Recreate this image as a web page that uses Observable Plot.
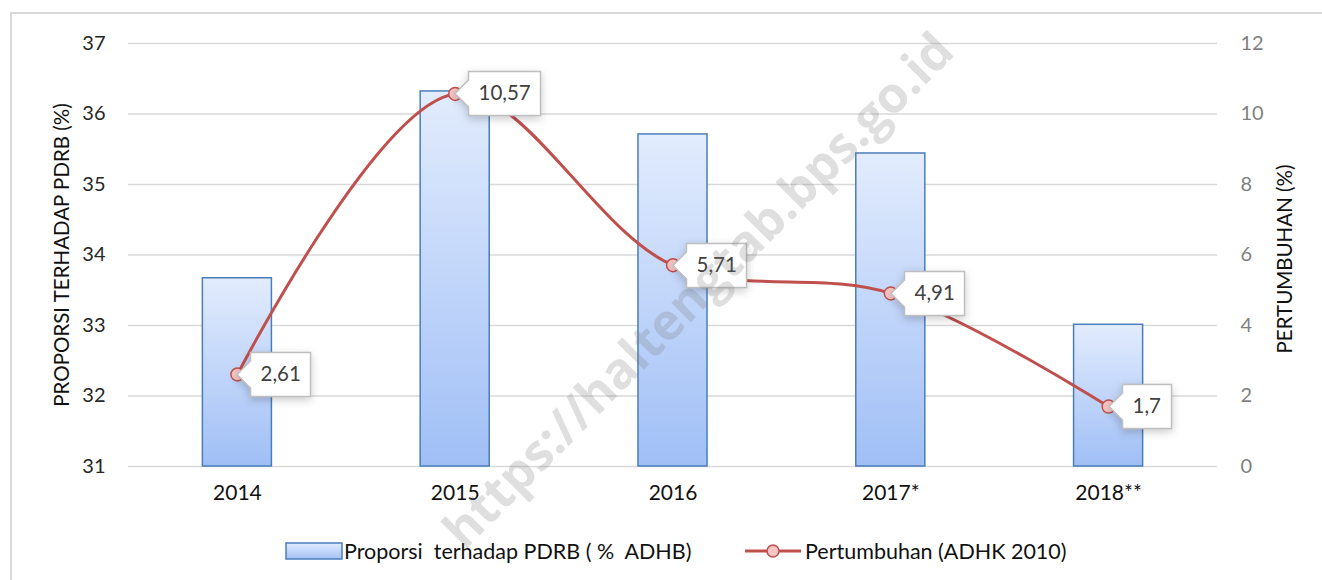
<!DOCTYPE html>
<html>
<head>
<meta charset="utf-8">
<script src="https://cdn.jsdelivr.net/npm/d3@7"></script>
<script src="https://cdn.jsdelivr.net/npm/@observablehq/plot@0.6"></script>
<style>
  html, body { margin: 0; padding: 0; background: #fff; overflow: hidden; width: 1322px; height: 580px; }
  #frame { position: absolute; left: 10px; top: 12px; width: 1400px; height: 700px; border: 2px solid #d9d9d9; box-sizing: border-box; }
  #chart { position: absolute; left: 0; top: 0; }
  #legend { position: absolute; left: 0; top: 537px; width: 1322px; height: 28px; font-family: Lato, "Open Sans", sans-serif; font-size: 21.5px; color: #111; }
  .lg { position: absolute; top: 0; display: flex; align-items: center; height: 28px; white-space: pre; }
  #wm { position: absolute; left: 697px; top: 289px; transform: translate(-50%, -50%) rotate(-45.3deg); font-family: "Open Sans", sans-serif; font-weight: 700; font-size: 50px; color: rgba(120,120,120,0.24); white-space: nowrap; pointer-events: none; }
</style>
</head>
<body>
<div id="frame"></div>
<div id="chart"></div>
<div id="legend">
  <div class="lg" style="left:285px;">
    <svg width="58" height="18" style="margin-right:1px"><defs><linearGradient id="lgGrad" x1="0" y1="0" x2="0" y2="1"><stop offset="0" stop-color="#e2ecfd"/><stop offset="1" stop-color="#a3c1f5"/></linearGradient></defs><rect x="1" y="1" width="56" height="16" fill="url(#lgGrad)" stroke="#4a7ebb" stroke-width="1.5"/></svg><span id="lg1"></span>
  </div>
  <div class="lg" style="left:745px;">
    <svg width="58" height="18" style="margin-right:2px"><line x1="0" y1="9" x2="56" y2="9" stroke="#c0504d" stroke-width="3"/><circle cx="28" cy="9" r="6" fill="#f8c3c3" stroke="#c0504d" stroke-width="1.5"/></svg><span id="lg2"></span>
  </div>
</div>
<div id="wm">https://haltengtab.bps.go.id</div>
<script>
// ---- data ----
const years = ["2014", "2015", "2016", "2017*", "2018**"];
const proporsi = [33.67, 36.32, 35.71, 35.44, 33.01];      // % of PDRB (ADHB), left axis
const pertumbuhan = [2.61, 10.57, 5.71, 4.91, 1.7];         // growth (ADHK 2010), right axis
const leftTicks = [31, 32, 33, 34, 35, 36, 37];
const rightTicks = [0, 2, 4, 6, 8, 10, 12];
const seriesNames = ["Proporsi  terhadap PDRB ( %  ADHB)", "Pertumbuhan (ADHK 2010)"];
const axisTitles = ["PROPORSI TERHADAP PDRB (%)", "PERTUMBUHAN (%)"];

document.getElementById("lg1").textContent = seriesNames[0];
document.getElementById("lg2").textContent = seriesNames[1];

// map right-axis values (0..12) onto left-axis domain (31..37)
const lMin = 31, lMax = 37, rMin = 0, rMax = 12;
const toLeft = v => lMin + (v - rMin) * (lMax - lMin) / (rMax - rMin);
const toRight = v => rMin + (v - lMin) * (rMax - rMin) / (lMax - lMin);

const rows = years.map((y, i) => ({year: y, p: proporsi[i], g: pertumbuhan[i], gy: toLeft(pertumbuhan[i])}));
const fmt = v => String(v).replace(".", ",");

const font = "Lato, 'Open Sans', sans-serif";

const plot = Plot.plot({
  width: 1322,
  height: 520,
  marginTop: 43,
  marginBottom: 54,
  marginLeft: 128,
  marginRight: 105,
  style: {fontFamily: font, fontSize: "20px", background: "transparent", color: "#262626", overflow: "visible"},
  x: {domain: years, type: "band", paddingInner: 0.683, paddingOuter: 0.3415, round: false, label: null},
  y: {domain: [lMin, lMax], label: null},
  marks: [
    Plot.ruleY(leftTicks, {stroke: "#d9d9d9", strokeWidth: 1.5}),
    Plot.barY(rows, {x: "year", y1: lMin, y2: "p", fill: "url(#barGrad)", stroke: "#4a7ebb", strokeWidth: 1.5}),
    Plot.line(rows, {x: "year", y: "gy", stroke: "#c0504d", strokeWidth: 3, curve: "catmull-rom"}),
    Plot.dot(rows, {x: "year", y: "gy", r: 6.5, fill: "#f8c3c3", stroke: "#c0504d", strokeWidth: 1.5}),
    Plot.tip(rows, {x: "year", y: "gy", title: d => fmt(d.g), anchor: "left", pointerSize: 27, fill: "white", stroke: "#bfbfbf", fontSize: 20.5, fontFamily: font, textPadding: 10}),
    Plot.axisY(leftTicks, {anchor: "left", tickSize: 0, tickPadding: 23, fontSize: 20, fill: "#262626", tickFormat: v => String(v), label: null}),
    Plot.axisY(leftTicks, {anchor: "right", tickSize: 0, tickPadding: 23, fontSize: 20, fill: "#7f7f7f", tickFormat: v => String(toRight(v)), label: null}),
    Plot.axisX({tickSize: 0, tickPadding: 19, fontSize: 21, fill: "#111", label: null}),
    Plot.text([axisTitles[0]], {frameAnchor: "left", dx: -66, rotate: -90, textAnchor: "middle", text: d => d, fontSize: 20.5, fill: "#111"}),
    Plot.text([axisTitles[1]], {frameAnchor: "right", dx: 68, dy: 4, rotate: -90, textAnchor: "middle", text: d => d, fontSize: 20.5, fill: "#111"})
  ]
});

// gradient definition for bars
const ns = "http://www.w3.org/2000/svg";
const defs = document.createElementNS(ns, "defs");
defs.innerHTML = '<linearGradient id="barGrad" x1="0" y1="0" x2="0" y2="1"><stop offset="0" stop-color="#e2ecfd"/><stop offset="1" stop-color="#a0bff6"/></linearGradient>';
plot.insertBefore(defs, plot.firstChild);

// tip styling
plot.querySelectorAll('g[aria-label="tip"]').forEach(g => {
  g.removeAttribute("filter");
  g.style.filter = "none";
  g.querySelectorAll("text").forEach(t => t.setAttribute("fill", "#404040"));
  g.querySelectorAll("path").forEach(p => p.setAttribute("stroke-width", "1.5"));
});

document.getElementById("chart").appendChild(plot);
</script>
</body>
</html>
